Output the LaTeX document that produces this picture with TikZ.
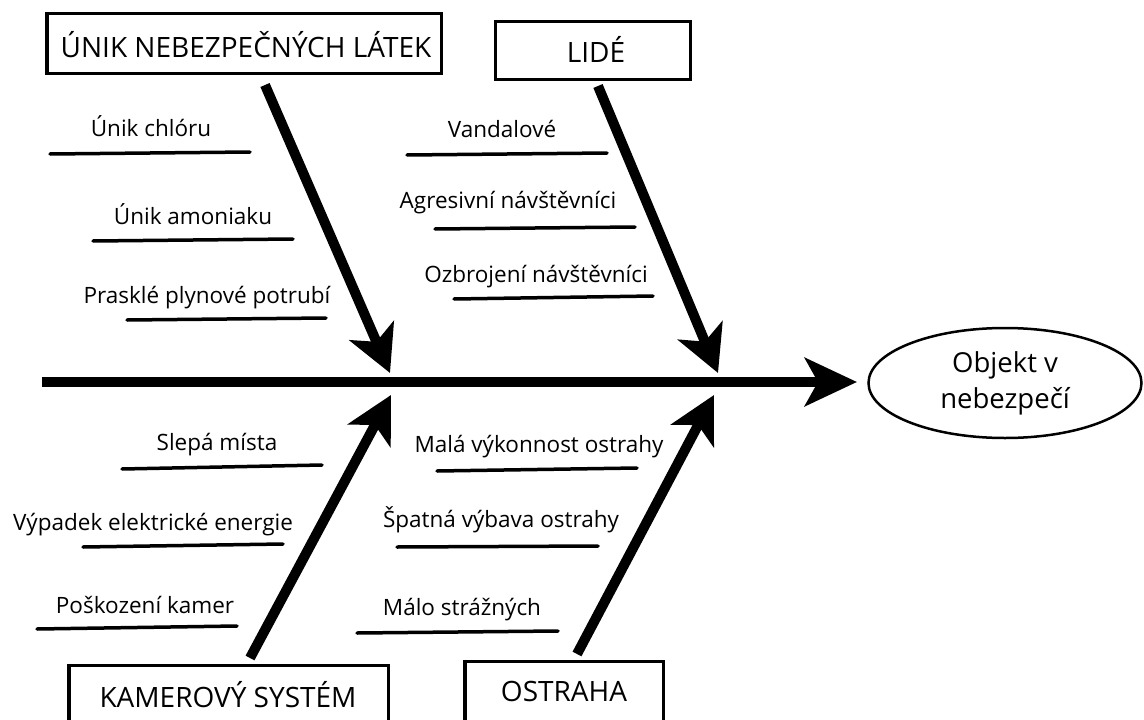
\documentclass[tikz,border=0pt]{standalone}
\usepackage{fontspec}
\setmainfont{Open Sans}
\usetikzlibrary{arrows.meta,shapes.geometric}
\begin{document}
\begin{tikzpicture}[x=1pt,y=-1pt,
  lbl/.style={font=\fontsize{22.5}{26}\selectfont, inner sep=0pt, anchor=base},
  cat/.style={font=\fontsize{28}{32}\selectfont, inner sep=0pt, anchor=base},
  catbox/.style={draw, line width=3pt, inner sep=0pt},
  uline/.style={line width=3.5pt, line cap=round},
  bone/.style={line width=10pt, -{Stealth[length=46pt,width=48pt,inset=12pt]}},
]
\useasboundingbox (0,0) rectangle (1144,720);
\clip (0,0) rectangle (1144,720);

% category boxes
\node[catbox, minimum width=395pt, minimum height=60pt] (b1) at (244,43.5) {};
\draw[line width=3pt] ([xshift=2.5pt]b1.north west) -- ([xshift=2.5pt]b1.south west);
\node[cat] (t1) at (246,57) {ÚNIK NEBEZPEČNÝCH LÁTEK};

\node[catbox, minimum width=195pt, minimum height=58pt] (b2) at (593,50.5) {};
\node[cat] (t2) at (596,62) {LIDÉ};

\node[catbox, minimum width=320pt, minimum height=80pt] (b3) at (228.5,705) {};
\draw[line width=3pt] ([xshift=2.5pt]b3.north west) -- ([xshift=2.5pt]b3.south west);
\node[cat] (t3) at (228,707) {KAMEROVÝ SYSTÉM};

\node[catbox, minimum width=199pt, minimum height=70pt] (b4) at (564,696) {};
\draw[line width=3pt] ([xshift=2.5pt]b4.north west) -- ([xshift=2.5pt]b4.south west);
\node[cat] (t4) at (564,701) {OSTRAHA};

% effect
\node[draw, ellipse, line width=2.5pt, minimum width=273pt, minimum height=110pt,
      font=\fontsize{27.5}{36}\selectfont, align=center, inner sep=0pt] (obj) at (1005,383)
      {Objekt v\\nebezpečí};

% spine
\coordinate (s0) at (42,382);
\coordinate (s1) at (857,382);
\draw[line width=10pt, -{Stealth[length=52pt,width=48pt,inset=13pt]}] (s0) -- (s1);

% bones
\coordinate (a1s) at (265,85);  \coordinate (a1e) at (390,373);
\coordinate (a2s) at (598,86);  \coordinate (a2e) at (718,373);
\coordinate (a3s) at (250,658); \coordinate (a3e) at (391,395);
\coordinate (a4s) at (577,654); \coordinate (a4e) at (714,395);
\draw[bone] (a1s) -- (a1e);
\draw[bone] (a2s) -- (a2e);
\draw[bone] (a3s) -- (a3e);
\draw[bone] (a4s) -- (a4e);

% causes
\node[lbl] (c1) at (151,136) {Únik chlóru};
\coordinate (l1a) at (50,154); \coordinate (l1b) at (250,152);
\draw[uline] (l1a) -- (l1b);
\node[lbl] (c2) at (193,224) {Únik amoniaku};
\coordinate (l2a) at (93,241); \coordinate (l2b) at (293,239);
\draw[uline] (l2a) -- (l2b);
\node[lbl] (c3) at (207,303) {Prasklé plynové potrubí};
\coordinate (l3a) at (127,320); \coordinate (l3b) at (326,318);
\draw[uline] (l3a) -- (l3b);

\node[lbl] (c4) at (502,137) {Vandalové};
\coordinate (l4a) at (407,155); \coordinate (l4b) at (607,153);
\draw[uline] (l4a) -- (l4b);
\node[lbl] (c5) at (508,208) {Agresivní návštěvníci};
\coordinate (l5a) at (435,229); \coordinate (l5b) at (635,227);
\draw[uline] (l5a) -- (l5b);
\node[lbl] (c6) at (536,282) {Ozbrojení návštěvníci};
\coordinate (l6a) at (454,299); \coordinate (l6b) at (653,296);
\draw[uline] (l6a) -- (l6b);

\node[lbl] (c7) at (217,450) {Slepá místa};
\coordinate (l7a) at (122,469); \coordinate (l7b) at (322,465);
\draw[uline] (l7a) -- (l7b);
\node[lbl] (c8) at (153,530) {Výpadek elektrické energie};
\coordinate (l8a) at (83,547); \coordinate (l8b) at (283,544);
\draw[uline] (l8a) -- (l8b);
\node[lbl] (c9) at (145,613) {Poškození kamer};
\coordinate (l9a) at (37,629); \coordinate (l9b) at (237,626);
\draw[uline] (l9a) -- (l9b);

\node[lbl] (c10) at (539,452) {Malá výkonnost ostrahy};
\coordinate (l10a) at (437,471); \coordinate (l10b) at (637,468);
\draw[uline] (l10a) -- (l10b);
\node[lbl] (c11) at (501,527) {Špatná výbava ostrahy};
\coordinate (l11a) at (397,547); \coordinate (l11b) at (598,546);
\draw[uline] (l11a) -- (l11b);
\node[lbl] (c12) at (462,615) {Málo strážných};
\coordinate (l12a) at (357,633); \coordinate (l12b) at (558,631);
\draw[uline] (l12a) -- (l12b);
\end{tikzpicture}
\end{document}
